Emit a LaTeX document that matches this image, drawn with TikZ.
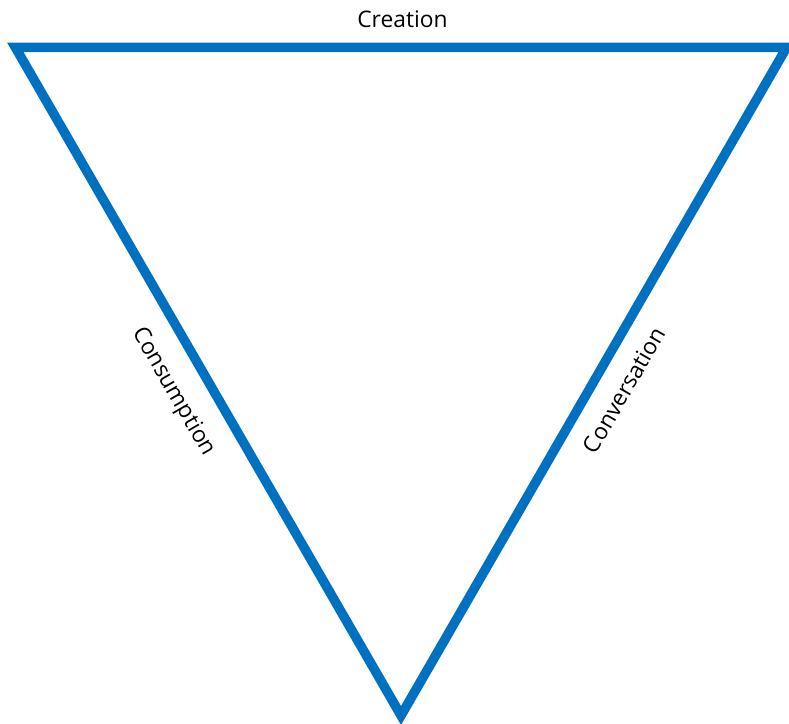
\documentclass[tikz,border=0pt]{standalone}
\usepackage{fontspec}
\setmainfont{Open Sans}
\definecolor{triblue}{RGB}{0,112,192}
\begin{document}
\begin{tikzpicture}[x=1pt,y=-1pt,
  edge/.style={draw=triblue,line width=9.5pt,line join=miter},
  lbl/.style={font=\fontsize{22.8}{26}\selectfont,inner sep=0pt}]
\useasboundingbox (0,0) rectangle (789,723);
\begin{scope}
\clip (0,0) rectangle (789,723);
\coordinate (A) at (15.3,47.3);
\coordinate (B) at (786.7,47.3);
\coordinate (C) at (401,715.5);
\path[edge] (A) -- (B) -- (C) -- cycle;
\end{scope}
\node[lbl] (creation) at (402.5,19.5) {Creation};
\node[lbl,rotate=-60] (consumption) at (173,392) {Consumption};
\node[lbl,rotate=60] (conversation) at (624,390) {Conversation};
\end{tikzpicture}
\end{document}
